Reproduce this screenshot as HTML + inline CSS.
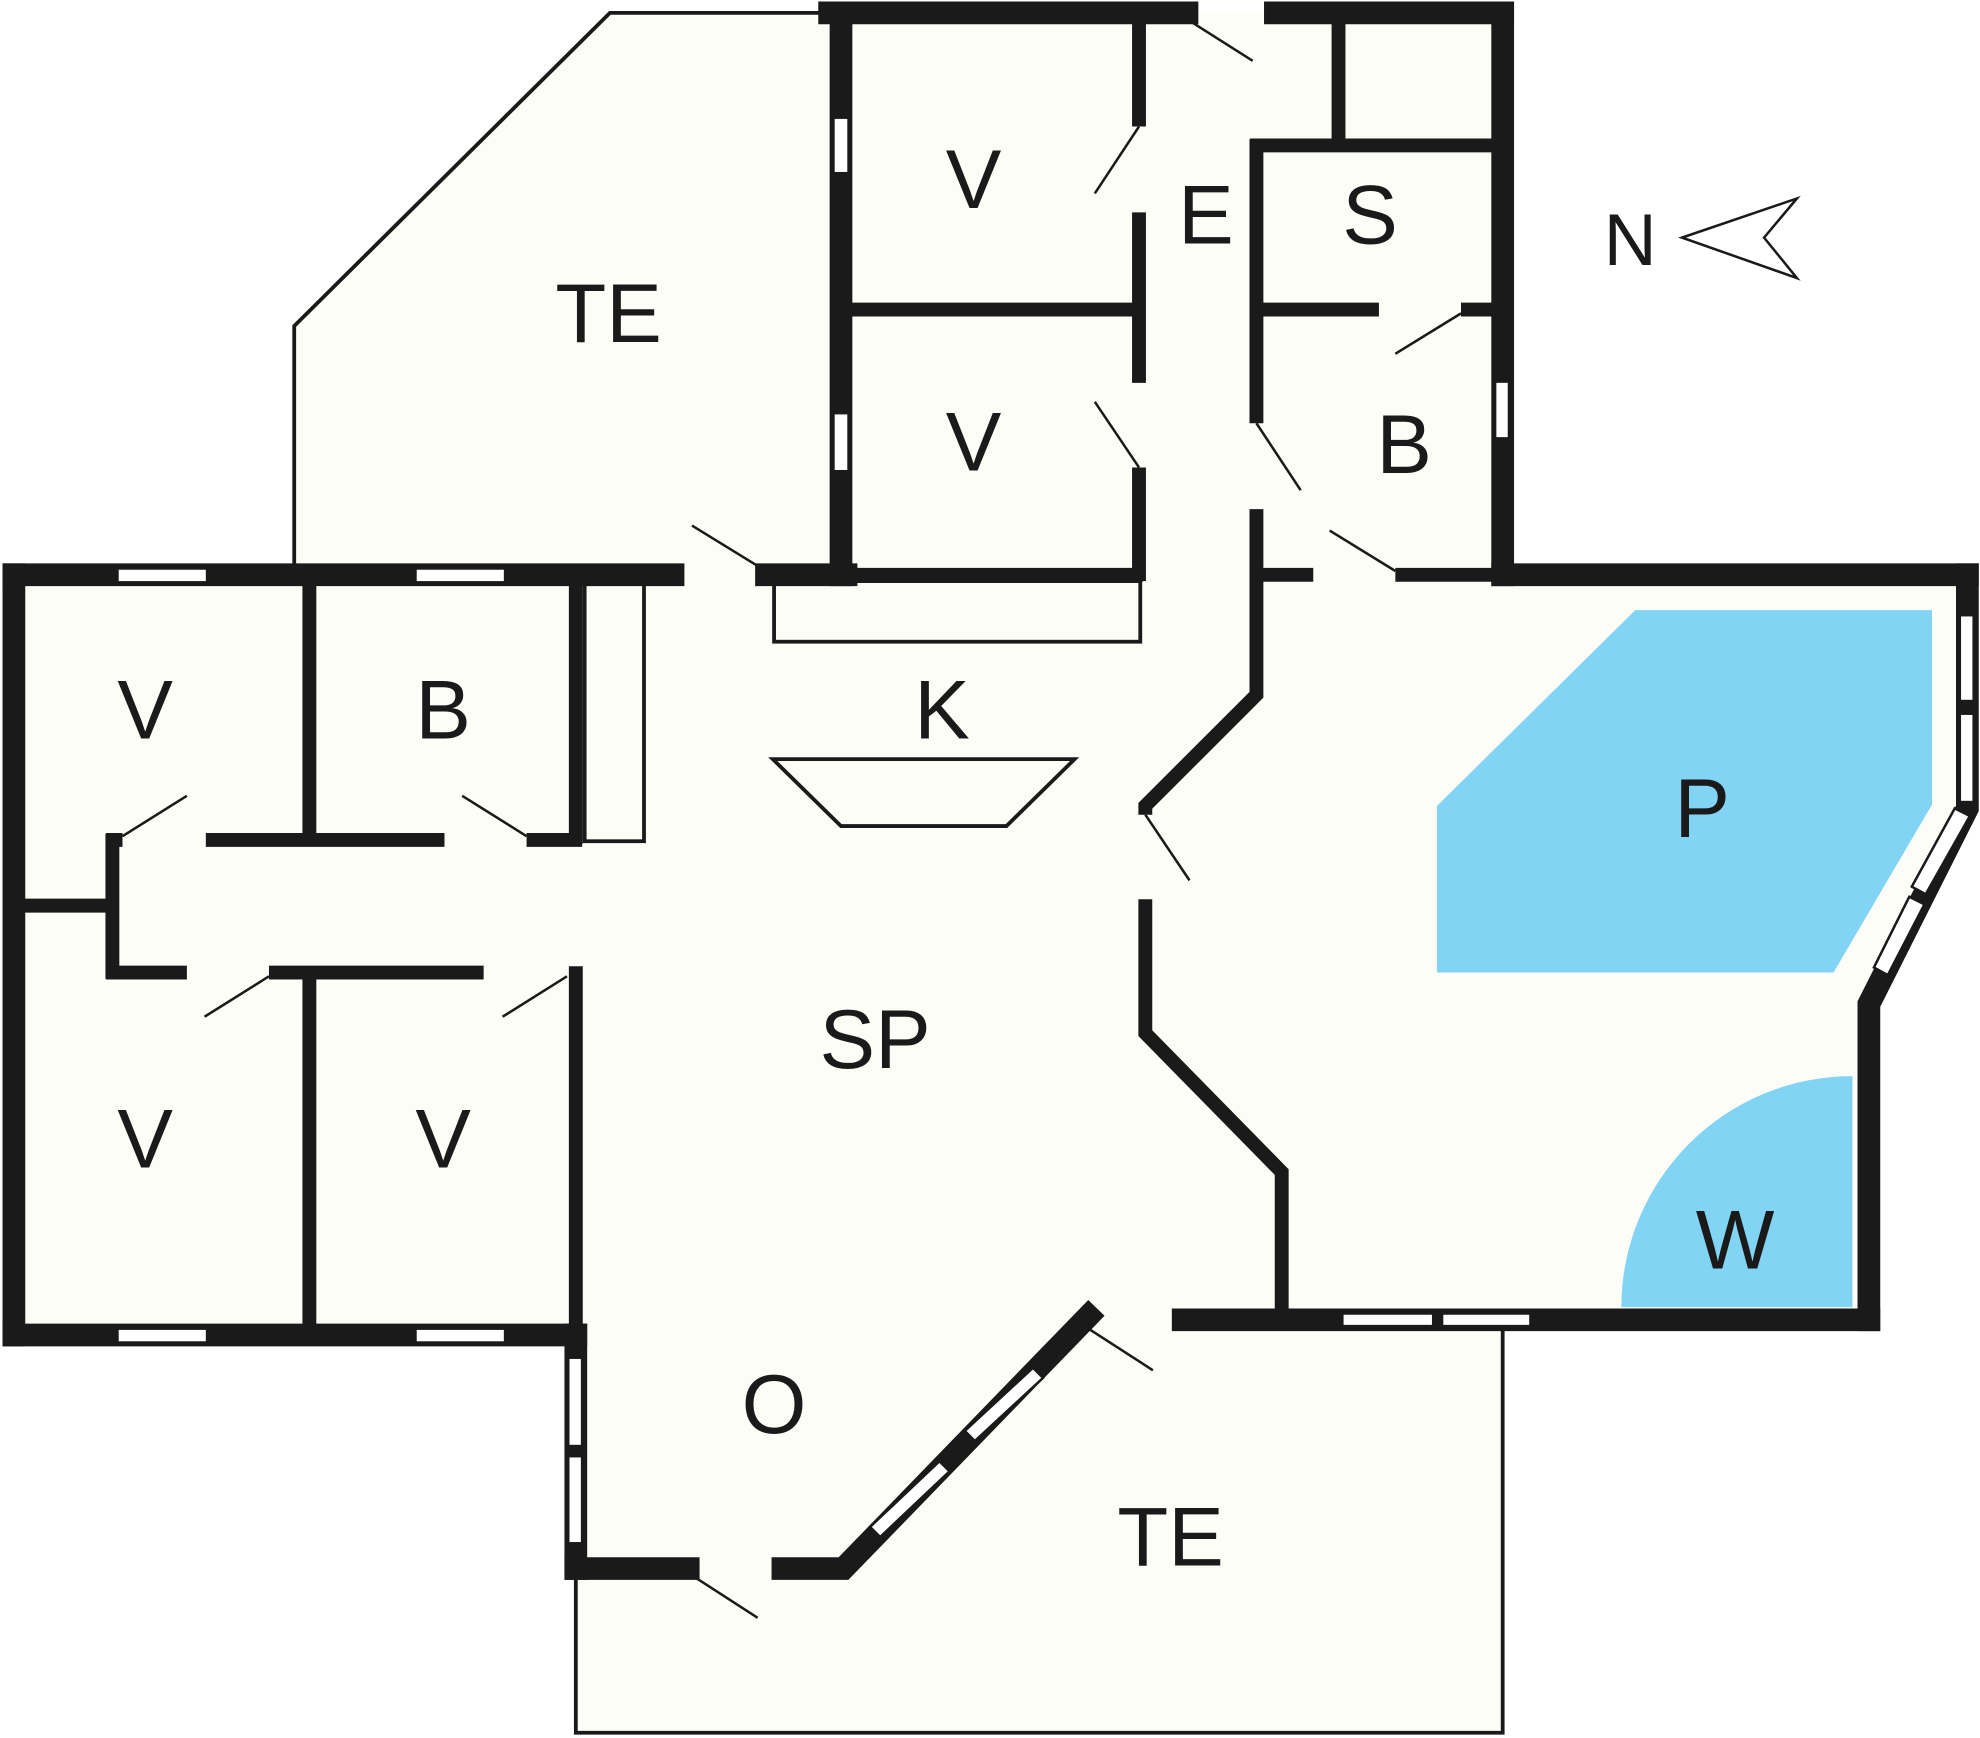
<!DOCTYPE html>
<html><head><meta charset="utf-8"><style>html,body{margin:0;padding:0;background:#fff}svg{display:block}</style></head><body>
<svg width="1980" height="1738" viewBox="0 0 1568 1376" xmlns="http://www.w3.org/2000/svg">
<rect width="1568" height="1376" fill="#fff"/>
<g fill="#fdfdf8" stroke="none">
<polygon points="233,447 233,258 483,10 1190,10 1190,455 1558,455 1558,640 1480,795 1480,1045 1190,1045 1190,1372 456,1372 456,1057 11,1057 11,455 233,455"/>
</g>
<polygon points="1295,483 1530,483 1530,637 1452,770 1138,770 1138,638" fill="#82d4f4"/>
<path d="M1284,1035 A183,183 0 0 1 1467,852 L1467,1035 Z" fill="#82d4f4"/>
<g fill="none" stroke="#1a1a1a" stroke-width="3">
<polyline points="233,447 233,258 483,10 657,10"/>
<rect x="613" y="460" width="290" height="48"/>
<rect x="463" y="460" width="47" height="206"/>
<polygon points="612,601 851,601 797,654 666,654"/>
<polyline points="456,1250 456,1372 1190,1372 1190,1053"/>
</g>
<g stroke="#1a1a1a" stroke-width="18" fill="none" stroke-linecap="square">
<line x1="657" y1="10" x2="940" y2="10"/><line x1="1010" y1="10" x2="1190" y2="10"/>
<line x1="1190" y1="10" x2="1190" y2="455"/>
<line x1="666" y1="10" x2="666" y2="455"/>
<line x1="11" y1="455" x2="533" y2="455"/><line x1="607" y1="455" x2="670" y2="455"/>
<line x1="1190" y1="455" x2="1558" y2="455"/>
<polyline points="1558,455 1558,640 1480,795 1480,1045"/>
<line x1="937" y1="1045" x2="1480" y2="1045"/>
<line x1="11" y1="455" x2="11" y2="1057"/><line x1="11" y1="1057" x2="456" y2="1057"/>
<line x1="456" y1="1057" x2="456" y2="1242"/>
<line x1="456" y1="1242" x2="545" y2="1242"/><polyline points="620,1242 668,1242 862,1042"/>
</g>
<g stroke="#1a1a1a" stroke-width="11" fill="none">
<line x1="902" y1="15" x2="902" y2="100"/><line x1="902" y1="168" x2="902" y2="303"/><line x1="902" y1="370" x2="902" y2="460"/>
<line x1="670" y1="245" x2="902" y2="245"/><line x1="670" y1="455" x2="905" y2="455"/>
<line x1="1060" y1="15" x2="1060" y2="115"/><line x1="990" y1="115" x2="1190" y2="115"/>
<line x1="995" y1="110" x2="995" y2="335"/><polyline points="995,403 995,550 907,638 907,645"/>
<polyline points="907,712 907,818 1015,928 1015,1045"/>
<line x1="990" y1="245" x2="1092" y2="245"/><line x1="1157" y1="245" x2="1190" y2="245"/>
<line x1="995" y1="455" x2="1040" y2="455"/><line x1="1105" y1="455" x2="1190" y2="455"/>
<line x1="245" y1="455" x2="245" y2="665"/><line x1="245" y1="770" x2="245" y2="1057"/>
<line x1="163" y1="665" x2="352" y2="665"/><line x1="417" y1="665" x2="461" y2="665"/>
<line x1="456" y1="455" x2="456" y2="668"/>
<line x1="84" y1="665" x2="97" y2="665"/>
<line x1="89" y1="660" x2="89" y2="775"/><line x1="11" y1="717" x2="89" y2="717"/>
<line x1="84" y1="770" x2="148" y2="770"/><line x1="213" y1="770" x2="383" y2="770"/>
<line x1="456" y1="765" x2="456" y2="1057"/>
</g>
<g fill="#fff" stroke="#1a1a1a" stroke-width="2">
<rect x="660" y="93" width="12" height="44"/><rect x="660" y="327" width="12" height="46"/>
<rect x="93" y="450" width="71" height="11"/><rect x="329" y="450" width="71" height="11"/>
<rect x="93" y="1052" width="71" height="11"/><rect x="329" y="1052" width="71" height="11"/>
<rect x="1063" y="1040" width="72" height="10"/><rect x="1142" y="1040" width="70" height="10"/>
<rect x="1552" y="487" width="11" height="68"/><rect x="1552" y="565" width="11" height="70"/>
<rect x="1184" y="302" width="11" height="45"/>
<rect x="450" y="1075" width="11" height="70"/><rect x="450" y="1153" width="11" height="69"/>
<polygon points="1548,640 1560,646 1525,708 1514,702"/>
<polygon points="1512,710 1524,716 1495,772 1484,766"/>
<polygon points="818,1083 826,1091 772,1141 764,1133"/>
<polygon points="744,1157 752,1165 697,1217 689,1209"/>
</g>
<g stroke="#1a1a1a" stroke-width="2" fill="none">
<line x1="940" y1="15" x2="992" y2="48"/><line x1="902" y1="100" x2="867" y2="153"/><line x1="902" y1="370" x2="867" y2="318"/>
<line x1="1157" y1="248" x2="1105" y2="280"/><line x1="995" y1="335" x2="1030" y2="388"/>
<line x1="1105" y1="452" x2="1053" y2="420"/><line x1="600" y1="448" x2="548" y2="416"/>
<line x1="907" y1="645" x2="942" y2="697"/>
<line x1="97" y1="662" x2="148" y2="630"/><line x1="417" y1="662" x2="366" y2="630"/>
<line x1="213" y1="773" x2="162" y2="805"/><line x1="449" y1="773" x2="398" y2="805"/>
<line x1="862" y1="1052" x2="913" y2="1085"/><line x1="549" y1="1248" x2="600" y2="1281"/>
<polygon points="1332,188 1423,157 1397,188 1423,220"/>
</g>
<g font-family="Liberation Sans, sans-serif" font-size="66" fill="#1a1a1a" text-anchor="middle" dominant-baseline="central">
<text x="482" y="248">TE</text><text x="771" y="142">V</text><text x="771" y="350">V</text>
<text x="955" y="170">E</text><text x="1085" y="170">S</text><text x="1112" y="352">B</text>
<text x="1291" y="190" font-size="58">N</text><text x="746" y="562">K</text>
<text x="115" y="562">V</text><text x="351" y="562">B</text><text x="1348" y="640">P</text>
<text x="693" y="823">SP</text><text x="115" y="902">V</text><text x="351" y="902">V</text>
<text x="1374" y="982">W</text><text x="613" y="1112">O</text><text x="927" y="1217">TE</text>
</g>
</svg>
</body></html>
